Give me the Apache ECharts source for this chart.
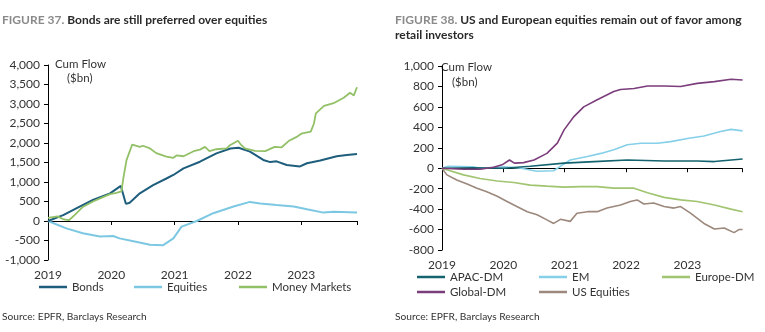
<!DOCTYPE html>
<html><head><meta charset="utf-8">
<script src="https://cdn.jsdelivr.net/npm/echarts@6/dist/echarts.min.js"></script>
<style>html,body{margin:0;padding:0;background:#fff}#c{width:765px;height:332px}</style>
</head><body><div id="c"></div>
<script>
// ---- data (year, $bn) ----
const yearTicks = [2019, 2020, 2021, 2022, 2023];
const bonds = [[2019.00,0],[2019.24,150],[2019.50,370],[2019.71,540],[2019.98,710],[2020.15,900],[2020.23,440],[2020.29,470],[2020.45,710],[2020.66,920],[2020.87,1090],[2020.98,1180],[2021.14,1350],[2021.40,1520],[2021.66,1735],[2021.88,1860],[2022.01,1880],[2022.19,1780],[2022.40,1565],[2022.51,1510],[2022.61,1530],[2022.77,1435],[2022.98,1400],[2023.09,1480],[2023.30,1550],[2023.56,1660],[2023.72,1690],[2023.88,1720]];
const equities = [[2019.00,0],[2019.29,-190],[2019.55,-315],[2019.82,-400],[2020.03,-385],[2020.13,-445],[2020.35,-520],[2020.61,-610],[2020.82,-620],[2020.98,-445],[2021.11,-145],[2021.35,0],[2021.61,200],[2021.93,370],[2022.19,490],[2022.35,450],[2022.61,410],[2022.88,370],[2023.09,300],[2023.35,215],[2023.51,240],[2023.88,220]];
const moneyMarkets = [[2019.00,80],[2019.15,120],[2019.25,40],[2019.33,20],[2019.42,150],[2019.55,360],[2019.71,500],[2019.85,600],[2019.98,690],[2020.08,720],[2020.16,760],[2020.19,1100],[2020.24,1560],[2020.33,1960],[2020.45,1900],[2020.50,1930],[2020.60,1870],[2020.71,1740],[2020.87,1650],[2020.98,1620],[2021.03,1680],[2021.14,1660],[2021.30,1790],[2021.40,1830],[2021.48,1900],[2021.55,1790],[2021.66,1840],[2021.82,1860],[2021.88,1950],[2022.00,2060],[2022.05,1950],[2022.11,1860],[2022.27,1800],[2022.43,1790],[2022.58,1900],[2022.69,1890],[2022.80,2050],[2022.92,2150],[2023.00,2240],[2023.15,2290],[2023.20,2500],[2023.23,2760],[2023.36,2950],[2023.51,3020],[2023.67,3160],[2023.77,3290],[2023.83,3220],[2023.88,3430]];
const apacDM = [[2019.00,0],[2019.50,5],[2020.01,0],[2020.44,20],[2020.99,50],[2021.48,65],[2022.02,80],[2022.62,70],[2023.16,70],[2023.44,65],[2023.90,90]];
const em = [[2019.00,0],[2019.10,20],[2019.50,15],[2019.63,0],[2020.01,15],[2020.29,0],[2020.55,-30],[2020.82,-25],[2020.96,30],[2021.09,80],[2021.37,115],[2021.59,145],[2021.80,180],[2022.02,230],[2022.24,245],[2022.51,245],[2022.73,260],[2023.00,290],[2023.27,315],[2023.54,360],[2023.71,380],[2023.90,365]];
const europeDM = [[2019.00,0],[2019.35,-65],[2019.62,-100],[2019.90,-125],[2020.17,-140],[2020.44,-165],[2020.71,-175],[2020.99,-185],[2021.26,-180],[2021.53,-180],[2021.80,-195],[2022.13,-195],[2022.35,-240],[2022.62,-285],[2022.89,-310],[2023.16,-325],[2023.44,-360],[2023.71,-400],[2023.90,-425]];
const globalDM = [[2019.00,0],[2019.35,-10],[2019.62,-10],[2019.84,10],[2019.98,33],[2020.10,80],[2020.18,50],[2020.33,55],[2020.50,80],[2020.71,145],[2020.88,245],[2020.99,375],[2021.15,505],[2021.31,600],[2021.53,670],[2021.80,750],[2021.91,770],[2022.13,780],[2022.35,805],[2022.62,805],[2022.89,800],[2023.16,830],[2023.44,847],[2023.71,870],[2023.90,863]];
const usEquities = [[2019.00,0],[2019.08,-65],[2019.24,-115],[2019.41,-155],[2019.57,-195],[2019.73,-230],[2019.90,-275],[2020.06,-325],[2020.22,-375],[2020.39,-425],[2020.55,-455],[2020.71,-505],[2020.82,-540],[2020.93,-500],[2021.09,-520],[2021.20,-440],[2021.37,-425],[2021.53,-425],[2021.69,-390],[2021.91,-360],[2022.07,-325],[2022.18,-310],[2022.29,-350],[2022.45,-340],[2022.62,-375],[2022.78,-390],[2022.89,-375],[2023.05,-440],[2023.27,-540],[2023.44,-595],[2023.60,-585],[2023.76,-630],[2023.84,-600],[2023.90,-600]];

const FONT = 'Lato';
const txt = '#333';
const fmt = v => v.toLocaleString('en-US');

function xAxes(grid, max) {
  return [
    { type:'value', gridIndex:grid, min:2019, max:max, interval:1,
      axisLine:{onZero:true, lineStyle:{color:'#000', width:1}},
      axisTick:{show:true, length:4, lineStyle:{color:'#000'}},
      axisLabel:{show:false}, splitLine:{show:false} },
    { type:'value', gridIndex:grid, min:2019, max:max, interval:1, position:'bottom',
      axisLine:{show:false, onZero:false}, axisTick:{show:false}, splitLine:{show:false},
      axisLabel:{show:true, margin:9, color:txt, fontFamily:FONT, fontSize:12,
        showMaxLabel:false, formatter:v => yearTicks.includes(Math.round(v)) && Math.abs(v-Math.round(v))<1e-6 ? String(Math.round(v)) : ''} }
  ];
}
function yAxis(grid, min, max, interval) {
  return { type:'value', gridIndex:grid, min, max, interval,
    axisLine:{show:true, lineStyle:{color:'#000'}},
    axisTick:{show:true, length:4, lineStyle:{color:'#000'}},
    splitLine:{show:false},
    axisLabel:{color:txt, fontFamily:FONT, fontSize:12, margin:8, formatter:fmt} };
}
function line(name, data, color, xi, yi, w) {
  return { name, type:'line', data, xAxisIndex:xi, yAxisIndex:yi, symbol:'none',
    lineStyle:{color, width:w}, itemStyle:{color}, z:3 };
}
function leg(name, left, top) {
  return { data:[name], left, top, icon:'rect', itemWidth:28, itemHeight:2.5,
    textStyle:{color:txt, fontFamily:FONT, fontSize:11.5}, padding:0, selectedMode:false };
}
const C = {bonds:'#1e5e7c', eq:'#7cc8e2', mm:'#92c066', apac:'#15636f', em:'#85d0e8', eu:'#a0c470', glob:'#7b3d7b', us:'#9c887c'};

const chart = echarts.init(document.getElementById('c'));
chart.setOption({
  animation:false,
  grid:[
    {left:48, right:408, top:65, bottom:72},
    {left:442, right:23, top:66, bottom:82}
  ],
  xAxis:[...xAxes(0, 2023.88), ...xAxes(1, 2023.89)],
  yAxis:[yAxis(0,-1000,4000,500), yAxis(1,-800,1000,200)],
  legend:[
    leg('Bonds', 39, 281), leg('Equities', 134, 281), leg('Money Markets', 239, 281),
    leg('APAC-DM', 417, 271), leg('EM', 539, 271), leg('Europe-DM', 662, 271),
    leg('Global-DM', 417, 286), leg('US Equities', 539, 286)
  ],
  series:[
    line('Equities', equities, C.eq, 0, 0, 2),
    line('Bonds', bonds, C.bonds, 0, 0, 2),
    line('Money Markets', moneyMarkets, C.mm, 0, 0, 1.8),
    line('Europe-DM', europeDM, C.eu, 2, 1, 1.6),
    line('US Equities', usEquities, C.us, 2, 1, 1.6),
    line('EM', em, C.em, 2, 1, 1.6),
    line('APAC-DM', apacDM, C.apac, 2, 1, 1.6),
    line('Global-DM', globalDM, C.glob, 2, 1, 1.6)
  ],
  graphic:[
    {type:'text', left:2, top:14, style:{text:'{a|FIGURE 37. }{b|Bonds are still preferred over equities}',
      rich:{a:{fill:'#8a8a8a', fontWeight:'bold', fontSize:12, fontFamily:FONT}, b:{fill:'#2a2a2a', fontWeight:'bold', fontSize:12, fontFamily:FONT}}}},
    {type:'text', left:395, top:14, style:{text:'{a|FIGURE 38. }{b|US and European equities remain out of favor among}\n{b|retail investors}',
      rich:{a:{fill:'#8a8a8a', fontWeight:'bold', fontSize:12, fontFamily:FONT, lineHeight:15}, b:{fill:'#2a2a2a', fontWeight:'bold', fontSize:12, fontFamily:FONT, lineHeight:15}}}},
    {type:'text', left:55, top:58, style:{text:'Cum Flow', fill:txt, fontSize:11.5, fontFamily:FONT}},
    {type:'text', left:67, top:72, style:{text:'($bn)', fill:txt, fontSize:11.5, fontFamily:FONT}},
    {type:'text', left:441, top:61, style:{text:'Cum Flow', fill:txt, fontSize:11.5, fontFamily:FONT}},
    {type:'text', left:452, top:76, style:{text:'($bn)', fill:txt, fontSize:11.5, fontFamily:FONT}},
    {type:'text', left:2, top:312, style:{text:'Source: EPFR, Barclays Research', fill:txt, fontSize:10.2, fontFamily:FONT}},
    {type:'text', left:395, top:312, style:{text:'Source: EPFR, Barclays Research', fill:txt, fontSize:10.2, fontFamily:FONT}}
  ]
});
</script></body></html>
